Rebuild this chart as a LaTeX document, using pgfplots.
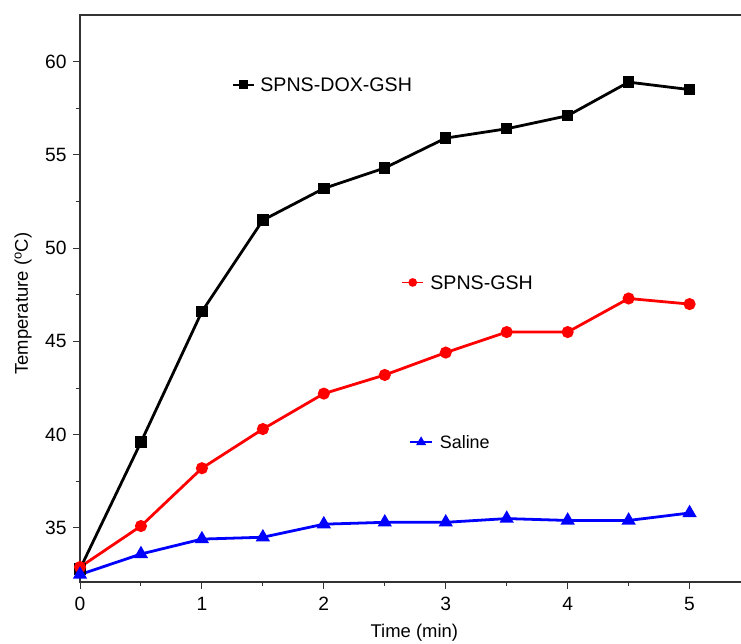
\documentclass[border=0pt]{standalone}
\usepackage{pgfplots}
\pgfplotsset{compat=1.18}
\usepackage{fontspec}
\setmainfont{Liberation Sans}

\newcommand{\lblfont}{\fontsize{18.5}{21}\selectfont}
\newcommand{\tickfont}{\fontsize{19.3}{21}\selectfont}

% Temperature over time, one table per sample
\pgfplotstableread{
t    T
0    32.8
0.5  39.6
1    46.6
1.5  51.5
2    53.2
2.5  54.3
3    55.9
3.5  56.4
4    57.1
4.5  58.9
5    58.5
}\doxgsh
\pgfplotstableread{
t    T
0    32.9
0.5  35.1
1    38.2
1.5  40.3
2    42.2
2.5  43.2
3    44.4
3.5  45.5
4    45.5
4.5  47.3
5    47.0
}\gsh
\pgfplotstableread{
t    T
0    32.5
0.5  33.6
1    34.4
1.5  34.5
2    35.2
2.5  35.3
3    35.3
3.5  35.5
4    35.4
4.5  35.4
5    35.8
}\saline

\begin{document}
\begin{tikzpicture}
\begin{axis}[
  scale only axis,
  width=662bp, height=567bp,
  xmin=0, xmax=5.43,
  ymin=32.1, ymax=62.5,
  axis x line*=bottom,
  axis y line*=left,
  axis line style={draw=none},
  xtick={0,1,2,3,4,5},
  ytick={35,40,45,50,55,60},
  minor x tick num=1,
  minor y tick num=1,
  tick align=outside,
  major tick length=7bp,
  minor tick length=4bp,
  tick style={black!80, line width=1pt},
  /pgf/number format/assume math mode=true,
  tick label style={font=\tickfont},
  xticklabel style={yshift=-5bp},
  yticklabel style={xshift=-3bp},
  every axis x label/.style={at={(rel axis cs:0.505,0)}, anchor=base, yshift=-55bp, font=\lblfont},
  every axis y label/.style={at={(rel axis cs:0,0.491)}, anchor=center, rotate=90, yshift=57bp, font=\lblfont},
  xlabel={Time (min)},
  ylabel={Temperature ($^{\mathrm{o}}$C)},
  clip=false,
]
\addplot[black, line width=2.8pt, mark=square*, mark size=4.3bp, mark options={solid}] table[x=t, y=T] {\doxgsh};
\addplot[red, line width=2.8pt, mark=*, mark size=4.6bp] table[x=t, y=T] {\gsh};
\addplot[blue, line width=2.8pt, mark=triangle*, mark size=5.5bp] table[x=t, y=T] {\saline};

% key samples beside each label
\addplot[black, line width=1.8pt, mark=square*, mark size=3.4bp, mark indices={2}] coordinates {(1.254,58.76) (1.342,58.76) (1.429,58.76)};
\addplot[red, line width=1.8pt, mark=*, mark size=3.4bp, mark indices={2}] coordinates {(2.641,48.16) (2.729,48.16) (2.817,48.16)};
\addplot[blue, line width=1.8pt, mark=triangle*, mark size=4bp, mark indices={2}] coordinates {(2.709,39.60) (2.798,39.60) (2.887,39.60)};

\node[anchor=west, font=\fontsize{19.7}{22}\selectfont, inner sep=0pt] at (axis cs:1.478,58.76) {SPNS-DOX-GSH};
\node[anchor=west, font=\fontsize{19.7}{22}\selectfont, inner sep=0pt] at (axis cs:2.872,48.16) {SPNS-GSH};
\node[anchor=west, font=\fontsize{18}{21}\selectfont, inner sep=0pt] at (axis cs:2.950,39.60) {Saline};

% frame: left, bottom and top edges
\draw[black!80, line width=1.1pt] (rel axis cs:1,1) -- (rel axis cs:0,1) -- (rel axis cs:0,0) -- (rel axis cs:1,0);
\coordinate (bl) at (rel axis cs:0,0);
\coordinate (tr) at (rel axis cs:1,1);
\end{axis}
\pgfresetboundingbox
\path[use as bounding box] ([xshift=-80bp, yshift=-62bp]bl) rectangle ([xshift=-1bp, yshift=15bp]tr);
\end{tikzpicture}
\end{document}
